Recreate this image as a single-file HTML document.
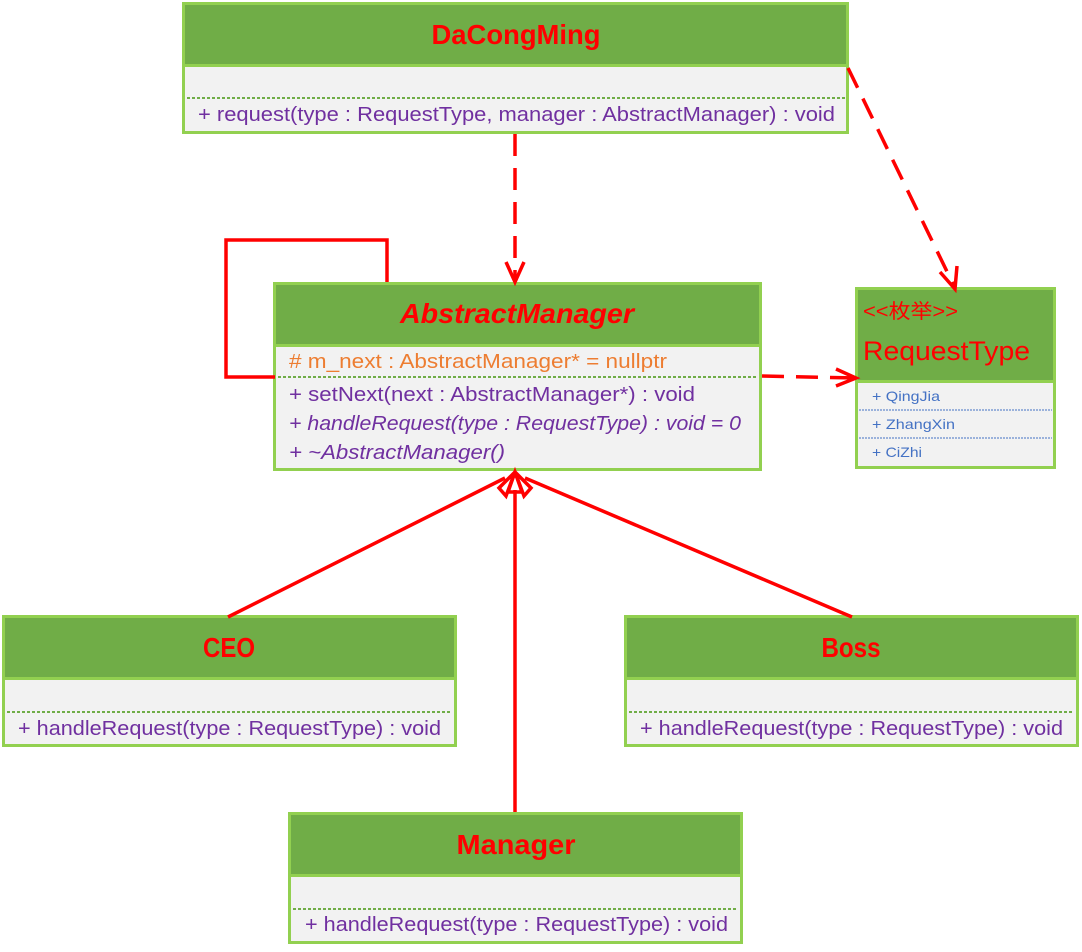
<!DOCTYPE html>
<html><head><meta charset="utf-8"><style>
html,body{margin:0;padding:0;background:#fff;width:1082px;height:952px;overflow:hidden}
svg{display:block}
text{font-family:"Liberation Sans","Noto Sans CJK SC",sans-serif}
</style></head><body>
<svg width="1082" height="952" viewBox="0 0 1082 952" xmlns="http://www.w3.org/2000/svg">
<g stroke="#92d050" stroke-width="3">
<rect x="183.5" y="3.5" width="664" height="129" fill="#f2f2f2"/>
<rect x="183.5" y="3.5" width="664" height="62" fill="#70ad47"/>
<rect x="274.5" y="283.5" width="486" height="186" fill="#f2f2f2"/>
<rect x="274.5" y="283.5" width="486" height="62" fill="#70ad47"/>
<rect x="856.5" y="288.5" width="198" height="179" fill="#f2f2f2"/>
<rect x="856.5" y="288.5" width="198" height="93" fill="#70ad47"/>
<rect x="3.5" y="616.5" width="452" height="129" fill="#f2f2f2"/>
<rect x="3.5" y="616.5" width="452" height="62" fill="#70ad47"/>
<rect x="625.5" y="616.5" width="452" height="129" fill="#f2f2f2"/>
<rect x="625.5" y="616.5" width="452" height="62" fill="#70ad47"/>
<rect x="289.5" y="813.5" width="452" height="129" fill="#f2f2f2"/>
<rect x="289.5" y="813.5" width="452" height="62" fill="#70ad47"/>
</g>
<g stroke="#70ad47" stroke-width="2" stroke-dasharray="3,2">
<line x1="187" y1="98" x2="845" y2="98"/>
<line x1="278" y1="377" x2="758" y2="377"/>
<line x1="7" y1="712" x2="452" y2="712"/>
<line x1="629" y1="712" x2="1074" y2="712"/>
<line x1="293" y1="909" x2="738" y2="909"/>
</g>
<g stroke="#4472c4" stroke-width="1" stroke-dasharray="2,1">
<line x1="859" y1="410" x2="1052" y2="410"/>
<line x1="859" y1="438" x2="1052" y2="438"/>
</g>
<g stroke="#ff0000" stroke-width="3.5" fill="none">
<polyline points="275,377 226,377 226,240 387,240 387,282"/>
<line x1="515" y1="134" x2="515" y2="280" stroke-dasharray="22,12"/>
<polyline points="506,262 515,282 524,262"/>
<line x1="848" y1="68" x2="955" y2="288" stroke-dasharray="22,12"/>
<polyline points="940,272 955,289 957,266"/>
<line x1="762" y1="376" x2="855" y2="378" stroke-dasharray="22,12"/>
<polyline points="836,369 856,378 836,386"/>
<line x1="228" y1="617" x2="505" y2="478"/>
<line x1="852" y1="617" x2="525" y2="478"/>
<line x1="515" y1="812" x2="515" y2="490"/>
<polygon points="515,472 508,492 522,492"/>
<polygon points="515,472 499,488 506,496"/>
<polygon points="515,472 531,488 524,496"/>
</g>
<g fill="#ff0000" font-weight="bold">
<text x="516" y="44" text-anchor="middle" font-size="28" textLength="169" lengthAdjust="spacingAndGlyphs">DaCongMing</text>
<text x="517" y="323" text-anchor="middle" font-size="28" font-style="italic" textLength="234" lengthAdjust="spacingAndGlyphs">AbstractManager</text>
<text x="229" y="657" text-anchor="middle" font-size="28" textLength="52" lengthAdjust="spacingAndGlyphs">CEO</text>
<text x="851" y="657" text-anchor="middle" font-size="28" textLength="59" lengthAdjust="spacingAndGlyphs">Boss</text>
<text x="516" y="854" text-anchor="middle" font-size="28" textLength="119" lengthAdjust="spacingAndGlyphs">Manager</text>
</g>
<text x="863" y="318" font-size="20" fill="#ff0000" textLength="95" lengthAdjust="spacingAndGlyphs">&lt;&lt;枚举&gt;&gt;</text>
<text x="863" y="360" font-size="27" fill="#ff0000" textLength="167" lengthAdjust="spacingAndGlyphs">RequestType</text>
<g fill="#4472c4" font-size="14">
<text x="872" y="401" textLength="68" lengthAdjust="spacingAndGlyphs">+ QingJia</text>
<text x="872" y="429" textLength="83" lengthAdjust="spacingAndGlyphs">+ ZhangXin</text>
<text x="872" y="457" textLength="50" lengthAdjust="spacingAndGlyphs">+ CiZhi</text>
</g>
<text x="289" y="368" font-size="20" fill="#ed7d31" textLength="378" lengthAdjust="spacingAndGlyphs"># m_next : AbstractManager* = nullptr</text>
<g fill="#7030a0" font-size="20">
<text x="198" y="121" textLength="637" lengthAdjust="spacingAndGlyphs">+ request(type : RequestType, manager : AbstractManager) : void</text>
<text x="289" y="401" textLength="406" lengthAdjust="spacingAndGlyphs">+ setNext(next : AbstractManager*) : void</text>
<text x="289" y="430" font-style="italic" textLength="452" lengthAdjust="spacingAndGlyphs">+ handleRequest(type : RequestType) : void = 0</text>
<text x="289" y="459" font-style="italic" textLength="216" lengthAdjust="spacingAndGlyphs">+ ~AbstractManager()</text>
<text x="18" y="735" textLength="423" lengthAdjust="spacingAndGlyphs">+ handleRequest(type : RequestType) : void</text>
<text x="640" y="735" textLength="423" lengthAdjust="spacingAndGlyphs">+ handleRequest(type : RequestType) : void</text>
<text x="305" y="931" textLength="423" lengthAdjust="spacingAndGlyphs">+ handleRequest(type : RequestType) : void</text>
</g>
</svg>
</body></html>
